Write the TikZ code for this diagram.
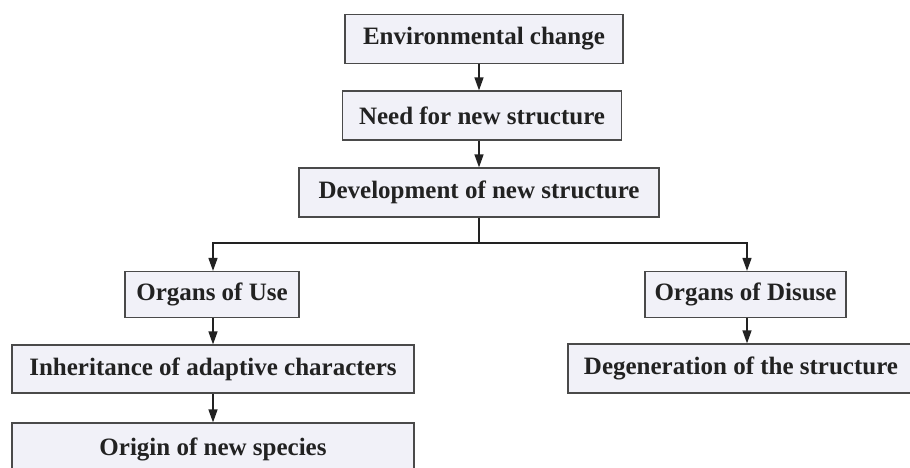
\documentclass[tikz,border=0pt]{standalone}
\usepackage{fontspec}
\setmainfont{Liberation Serif}
\usetikzlibrary{arrows.meta}
\definecolor{boxfill}{HTML}{F1F1F8}
\definecolor{boxline}{HTML}{4A4A4A}
\definecolor{ink}{HTML}{222222}
\begin{document}
\begin{tikzpicture}[x=1pt,y=-1pt,
  box/.style={draw=boxline,line width=1.2pt,fill=boxfill,inner sep=0pt,
    text=ink,font=\fontsize{25}{28}\selectfont\bfseries,anchor=center},
  arr/.style={draw=ink,line width=1.4pt,-{Triangle[length=13pt,width=9pt]}},
  ln/.style={draw=ink,line width=1.4pt}]
\useasboundingbox (0,0) rectangle (910,467);
\node[box,minimum width=278pt,minimum height=49pt] (env) at (484,39) {Environmental change};
\node[box,minimum width=279pt,minimum height=49pt] (need) at (482,115.5) {Need for new structure};
\node[box,minimum width=360pt,minimum height=49pt] (dev) at (479,192.5) {Development of new structure};
\node[box,minimum width=174pt,minimum height=46pt] (use) at (212,294.5) {Organs of Use};
\node[box,minimum width=201pt,minimum height=46pt] (disuse) at (745.5,294.5) {Organs of Disuse};
\node[box,minimum width=402pt,minimum height=48pt] (inh) at (213,369) {Inheritance of adaptive characters};
\node[box,minimum width=346pt,minimum height=49pt] (deg) at (741,368.5) {Degeneration of the structure};
\node[box,minimum width=402pt,minimum height=52pt] (orig) at (213,449) {Origin of new species};
\coordinate (split) at (479,243);
\coordinate (lx) at (213,0);
\coordinate (rx) at (747,0);
\draw[arr] (env.south -| dev.center) -- (need.north -| dev.center);
\draw[arr] (need.south -| dev.center) -- (dev.north);
\draw[ln] (dev.south) -- (split);
\draw[arr] (split) -| (use.north -| lx);
\draw[arr] (split) -| (disuse.north -| rx);
\draw[arr] (use.south -| lx) -- (inh.north -| lx);
\draw[arr] (inh.south -| lx) -- (orig.north -| lx);
\draw[arr] (disuse.south -| rx) -- (deg.north -| rx);
\end{tikzpicture}
\end{document}
